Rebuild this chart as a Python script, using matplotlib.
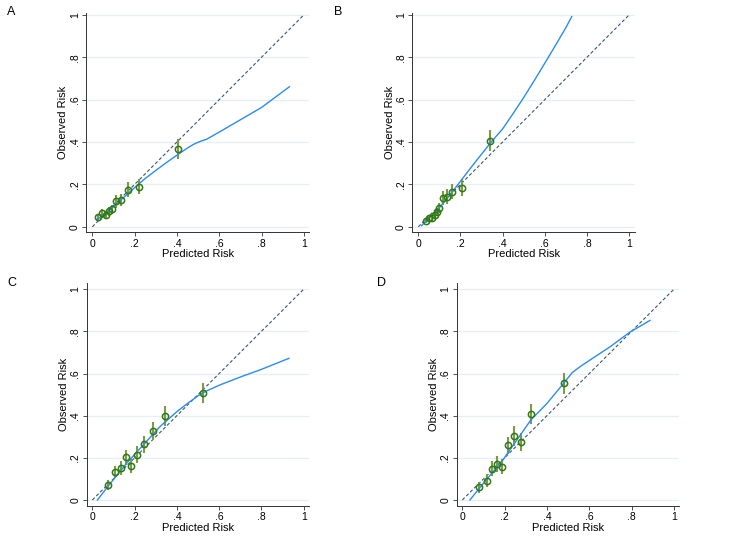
import matplotlib
matplotlib.use('Agg')
import matplotlib.pyplot as plt
from matplotlib.ticker import FixedLocator

plt.rcParams['font.family'] = ['Liberation Sans', 'DejaVu Sans']

W, H = 740, 543

# panel A
a_px = [0.028, 0.047, 0.065, 0.079, 0.095, 0.112, 0.136, 0.167, 0.222, 0.404]
a_py = [0.044, 0.063, 0.055, 0.073, 0.082, 0.121, 0.126, 0.175, 0.189, 0.367]
a_ci = [0.015, 0.020, 0.020, 0.022, 0.023, 0.030, 0.030, 0.035, 0.035, 0.048]
a_cx = [0.02, 0.05, 0.10, 0.15, 0.20, 0.25, 0.30, 0.35, 0.40, 0.45, 0.48, 0.51, 0.54, 0.60, 0.70, 0.80, 0.932]
a_cy = [0.033, 0.055, 0.095, 0.14, 0.185, 0.228, 0.266, 0.303, 0.338, 0.372, 0.390, 0.403, 0.413, 0.447, 0.505, 0.563, 0.661]

# panel B
b_px = [0.037, 0.052, 0.066, 0.079, 0.087, 0.100, 0.116, 0.135, 0.161, 0.207, 0.341]
b_py = [0.028, 0.040, 0.043, 0.055, 0.071, 0.087, 0.134, 0.142, 0.165, 0.185, 0.406]
b_ci = [0.012, 0.015, 0.018, 0.020, 0.020, 0.024, 0.033, 0.035, 0.036, 0.040, 0.050]
b_cx = [0.015, 0.05, 0.10, 0.15, 0.20, 0.25, 0.30, 0.35, 0.40, 0.45, 0.50, 0.55, 0.60, 0.65, 0.70, 0.728]
b_cy = [0.005, 0.04, 0.09, 0.15, 0.215, 0.28, 0.343, 0.405, 0.462, 0.535, 0.610, 0.690, 0.772, 0.855, 0.940, 0.992]

# panel C
c_px = [0.073, 0.107, 0.136, 0.159, 0.183, 0.213, 0.246, 0.289, 0.345, 0.522]
c_py = [0.071, 0.131, 0.150, 0.203, 0.161, 0.214, 0.264, 0.329, 0.399, 0.506]
c_ci = [0.025, 0.028, 0.033, 0.036, 0.035, 0.040, 0.041, 0.043, 0.049, 0.047]
c_cx = [0.024, 0.073, 0.162, 0.241, 0.32, 0.40, 0.45, 0.50, 0.54, 0.604, 0.715, 0.793, 0.93]
c_cy = [0.0, 0.063, 0.174, 0.261, 0.348, 0.419, 0.458, 0.494, 0.517, 0.546, 0.589, 0.617, 0.672]

# panel D
d_px = [0.080, 0.118, 0.142, 0.165, 0.189, 0.214, 0.244, 0.277, 0.324, 0.480]
d_py = [0.060, 0.092, 0.149, 0.171, 0.157, 0.259, 0.304, 0.275, 0.408, 0.554]
d_ci = [0.025, 0.030, 0.034, 0.037, 0.036, 0.042, 0.046, 0.043, 0.047, 0.049]
d_cx = [0.036, 0.08, 0.194, 0.272, 0.324, 0.40, 0.48, 0.52, 0.56, 0.62, 0.70, 0.79, 0.887]
d_cy = [0.0, 0.055, 0.193, 0.305, 0.38, 0.458, 0.555, 0.605, 0.635, 0.675, 0.728, 0.795, 0.852]

ticks = [0, 0.2, 0.4, 0.6, 0.8, 1.0]
tick_labels = ['0', '.2', '.4', '.6', '.8', '1']

# axes boxes in pixels: left, right, top, bottom, plus data limits
panels = [
    ('A', (86, 309.3, 13, 232.3), (-0.030, 1.026), (-0.026, 1.009), (a_px, a_py, a_ci, a_cx, a_cy), (7, 12)),
    ('B', (412.3, 635, 13, 232.3), (-0.0285, 1.028), (-0.026, 1.009), (b_px, b_py, b_ci, b_cx, b_cy), (334, 12)),
    ('C', (86.7, 309, 283.3, 506), (-0.0265, 1.025), (-0.0285, 1.028), (c_px, c_py, c_ci, c_cx, c_cy), (7, 283)),
    ('D', (456.7, 679, 283.3, 506), (-0.0265, 1.024), (-0.0285, 1.028), (d_px, d_py, d_ci, d_cx, d_cy), (377, 283)),
]

fig = plt.figure(figsize=(W / 100, H / 100), dpi=100)
fig.patch.set_facecolor('white')

for letter, (l, r, t, b), xl, yl, (px, py, ci, cx, cy), (lx, ly) in panels:
    ax = fig.add_axes([l / W, 1 - b / H, (r - l) / W, (b - t) / H])
    ax.set_xlim(*xl)
    ax.set_ylim(*yl)
    for y in ticks:
        ax.axhline(y, color='#e6eff1', lw=0.9, zorder=0)
    ax.plot([0, 1], [0, 1], color='#3b5573', lw=0.8, dashes=(3, 2), zorder=2)
    ax.vlines(px, [y - c for y, c in zip(py, ci)], [y + c for y, c in zip(py, ci)],
              color='#7f9a45', lw=1.5, zorder=3)
    ax.plot(cx, cy, color='#2b8cf0', lw=1.0, zorder=4)
    ax.plot(px, py, 'o', mfc='none', mec='#2f7a14', mew=1.1, ms=4.5, zorder=5)
    for s in ('top', 'right'):
        ax.spines[s].set_visible(False)
    for s in ('left', 'bottom'):
        ax.spines[s].set_color('#333333')
        ax.spines[s].set_linewidth(0.7)
    ax.xaxis.set_major_locator(FixedLocator(ticks))
    ax.yaxis.set_major_locator(FixedLocator(ticks))
    ax.set_xticklabels(tick_labels)
    ax.set_yticklabels(tick_labels, rotation=90, va='center')
    ax.tick_params(direction='out', length=3, width=0.6, color='#333333',
                   labelsize=7.5, pad=1.5)
    ax.set_xlabel('Predicted Risk', fontsize=8, labelpad=0.5)
    ax.set_ylabel('Observed Risk', fontsize=8, labelpad=1)
    fig.text(lx / W, 1 - ly / H, letter, fontsize=9, va='center', ha='left')

fig.savefig('out.png', dpi=100)
